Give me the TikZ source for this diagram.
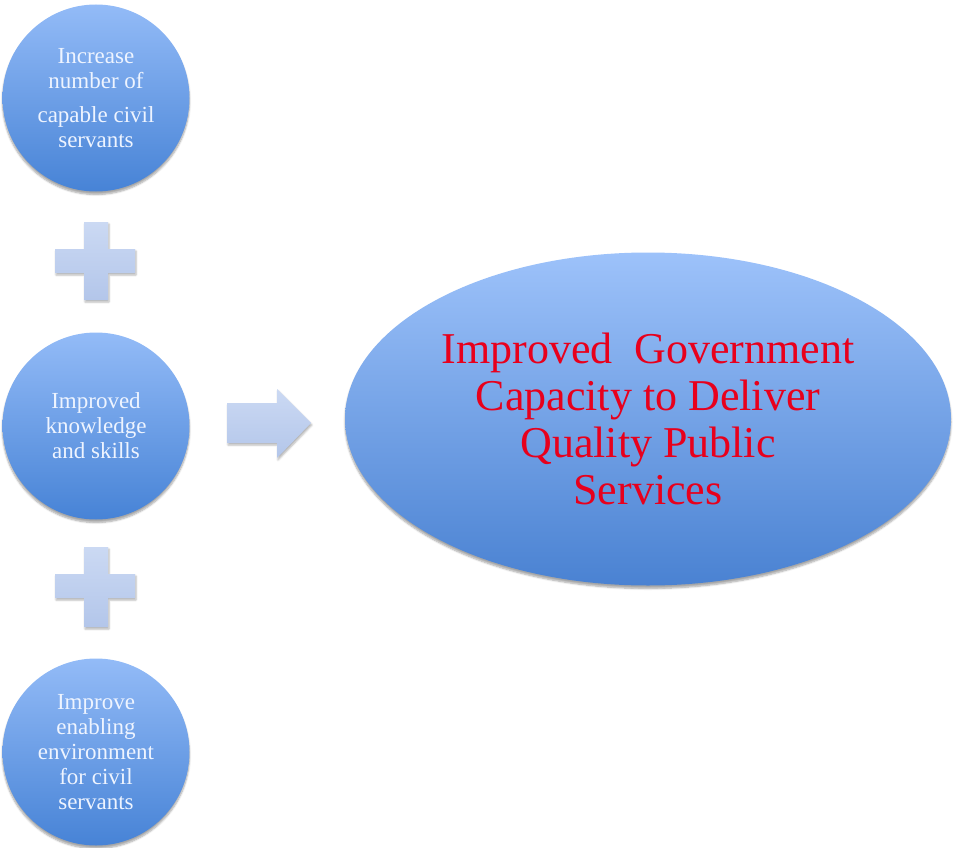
\documentclass[tikz,border=0pt]{standalone}
\usepackage{fontspec}
\setmainfont{Liberation Serif}
\usetikzlibrary{shadows.blur,shapes.geometric}
\definecolor{ctop}{HTML}{93BBF7}
\definecolor{cbot}{HTML}{4783D6}
\definecolor{etop}{HTML}{9DC2FA}
\definecolor{ebot}{HTML}{4A82D2}
\definecolor{ptop}{HTML}{CBD9F3}
\definecolor{pbot}{HTML}{B3C6EA}
\definecolor{ctext}{HTML}{EEF4FF}
\definecolor{etext}{HTML}{E8001C}
\begin{document}
\begin{tikzpicture}[x=1pt,y=-1pt,
  bubble/.style={circle, minimum size=187pt, inner sep=0pt, top color=ctop, bottom color=cbot,
    blur shadow={shadow xshift=0pt, shadow yshift=-3pt, shadow blur steps=6, shadow opacity=35},
    text=ctext, align=center, font=\fontsize{23}{25}\selectfont},
  goal/.style={ellipse, minimum width=606pt, minimum height=333pt, inner sep=0pt, top color=etop, bottom color=ebot,
    blur shadow={shadow xshift=0pt, shadow yshift=-3pt, shadow blur steps=6, shadow opacity=35},
    text=etext, align=center, font=\fontsize{44}{47}\selectfont},
  sign/.style={top color=ptop, bottom color=pbot,
    blur shadow={shadow xshift=1pt, shadow yshift=-2pt, shadow blur steps=4, shadow opacity=30}}
]
\useasboundingbox (0,0) rectangle (953,848);
\node[bubble] (c1) at (96,98) {Increase\\number of\\[9pt]capable civil\\servants};
\node[bubble] (c2) at (96,426) {Improved\\knowledge\\and skills};
\node[bubble] (c3) at (96,752) {Improve\\enabling\\environment\\for civil\\servants};
\node[goal] (g) at (648,419) {Improved\ \ Government\\Capacity to Deliver\\Quality Public\\Services};
% plus signs
\path[sign] (84,222) -- (108,222) -- (108,249) -- (135,249) -- (135,273) -- (108,273) -- (108,300) -- (84,300) -- (84,273) -- (55,273) -- (55,249) -- (84,249) -- cycle;
\path[sign] (84,547) -- (108,547) -- (108,574) -- (135,574) -- (135,598) -- (108,598) -- (108,627) -- (84,627) -- (84,598) -- (55,598) -- (55,574) -- (84,574) -- cycle;
% arrow
\path[sign] (227,403) -- (277,403) -- (277,389) -- (311,423) -- (277,458) -- (277,443) -- (227,443) -- cycle;
\end{tikzpicture}
\end{document}
